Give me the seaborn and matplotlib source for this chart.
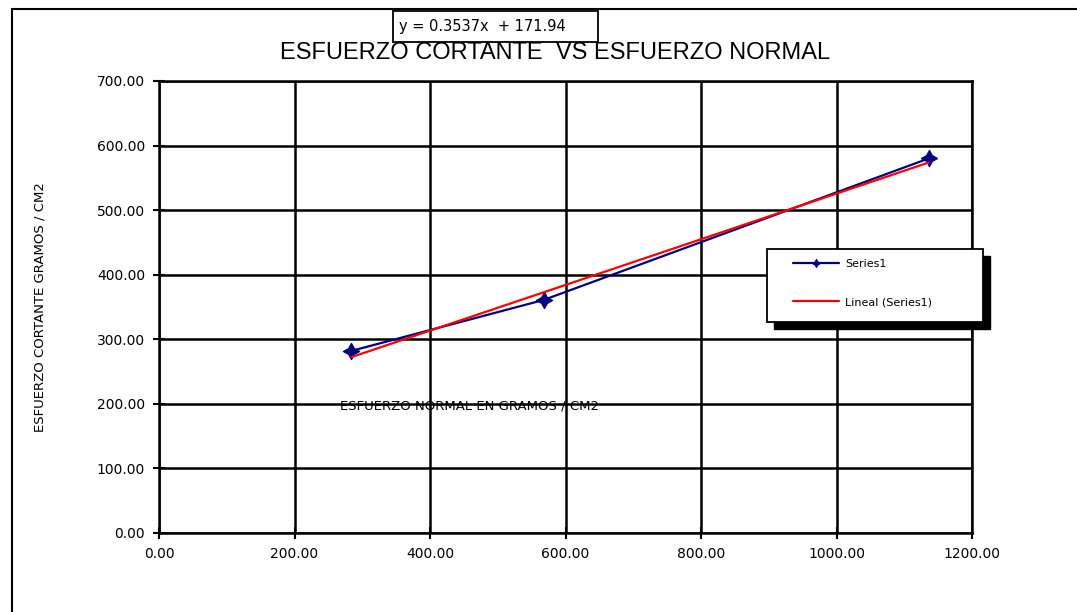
import matplotlib
matplotlib.use("Agg")
import matplotlib.pyplot as plt
import seaborn as sns
import numpy as np
import pandas as pd
from matplotlib.patches import Rectangle

normal = [284.0, 568.0, 1136.0]
cortante = [282.0, 361.0, 580.0]
slope = 0.3537
intercept = 171.94
x_ticks = [0, 200, 400, 600, 800, 1000, 1200]
y_ticks = [0, 100, 200, 300, 400, 500, 600, 700]

sns.set_theme(style="white")
plt.rcParams['font.family'] = ['DejaVu Sans']
plt.rcParams['text.color'] = 'black'
plt.rcParams['xtick.color'] = 'black'
plt.rcParams['ytick.color'] = 'black'
plt.rcParams['axes.labelcolor'] = 'black'

W, H = 1077, 612
fig = plt.figure(figsize=(W/100, H/100), dpi=100)
ax = fig.add_axes([159/W, 1-533/H, (972-159)/W, (533-81)/H])

df = pd.DataFrame({"x": normal, "y": cortante})
sns.lineplot(data=df, x="x", y="y", ax=ax, color="#000080", lw=1.6,
             marker=(4, 1, 0), markersize=12, markeredgecolor="#000080",
             label="Series1", zorder=4)
fx = np.array([min(normal), max(normal)])
trend = pd.DataFrame({"x": fx, "y": slope*fx + intercept})
sns.lineplot(data=trend, x="x", y="y", ax=ax, color="#ff0000", lw=1.6,
             label="Lineal (Series1)", zorder=5)

ax.set_xlim(0, 1200)
ax.set_ylim(0, 700)
ax.set_xticks(x_ticks)
ax.set_yticks(y_ticks)
ax.set_xticklabels([f"{v:.2f}" for v in x_ticks], fontsize=10)
ax.set_yticklabels([f"{v:.2f}" for v in y_ticks], fontsize=10)
ax.grid(True, color="black", lw=1.8)
for s in ax.spines.values():
    s.set_color("black"); s.set_linewidth(1.8)
ax.tick_params(axis="both", which="both", direction="inout", length=8, width=1.5,
               color="black", left=True, bottom=True, pad=6)
ax.set_xlabel("")
ax.set_ylabel("ESFUERZO CORTANTE GRAMOS / CM2", fontsize=9.5, labelpad=0)
ax.yaxis.set_label_coords((47-159)/(972-159), 0.5)
ax.text((340-159)/(972-159)*1200, 197, "ESFUERZO NORMAL EN GRAMOS / CM2", fontsize=9.5,
        va="center", ha="left")

fig.text(555/W, 1-53/H, "ESFUERZO CORTANTE  VS ESFUERZO NORMAL",
         fontsize=17, ha="center", va="center", family="Liberation Sans")

# equation box
fig.patches.append(Rectangle((393/W, 1-42/H), (598-393)/W, 31/H, transform=fig.transFigure,
                             fc="white", ec="black", lw=1.3, zorder=2))
fig.text(399/W, 1-27/H, "y = 0.3537x  + 171.94", fontsize=10.5, ha="left", va="center", zorder=3)

# chart border
fig.patches.append(Rectangle((12/W, -0.05), 1.2, 1-9/H+0.05, transform=fig.transFigure,
                             fill=False, ec="black", lw=1.5, zorder=1))

# legend frame with shadow
fig.patches.append(Rectangle((774/W, 1-329/H), (983-767)/W, (322-249)/H,
                             transform=fig.transFigure, fc="black", ec="black", lw=1, zorder=2))
fig.patches.append(Rectangle((767/W, 1-322/H), (983-767)/W, (322-249)/H,
                             transform=fig.transFigure, fc="white", ec="black", lw=1.3, zorder=3))
handles, labels = ax.get_legend_handles_labels()
ax.get_legend().remove()
leg = fig.legend(handles, labels, loc="upper left", bbox_to_anchor=(793/W, 1-259/H),
                 fontsize=8, frameon=False, borderpad=0, borderaxespad=0,
                 labelspacing=2.55, handlelength=4.1, handletextpad=0.6, markerscale=0.5)
leg.set_zorder(5)

fig.savefig("out.png", dpi=100)
